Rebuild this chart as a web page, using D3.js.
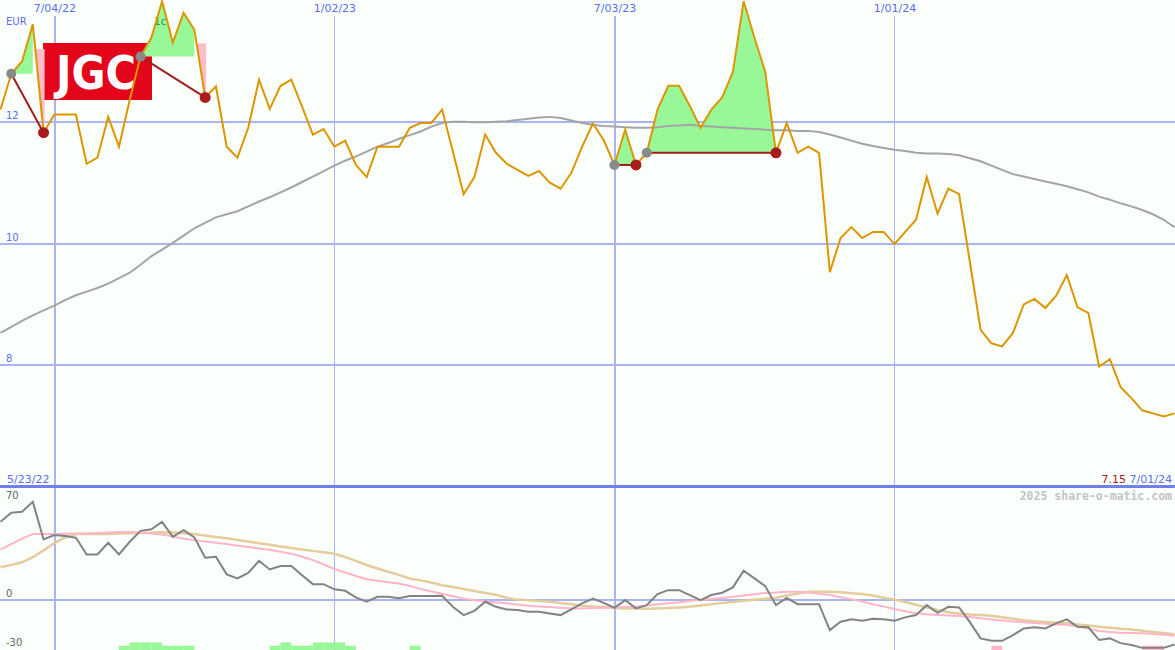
<!DOCTYPE html>
<html><head><meta charset="utf-8">
<script src="https://cdn.jsdelivr.net/npm/d3@7"></script>
<style>html,body{margin:0;padding:0;background:#fbfffb;overflow:hidden}svg{display:block}</style>
</head><body><svg id="c" width="1175" height="650"></svg>
<script>
// ---------- data ----------
const startDate = new Date(2022, 4, 30);
const endDate = new Date(2024, 6, 1);
const price = [12.20,12.79,12.99,13.60,11.82,12.12,12.12,12.12,11.31,11.41,
 12.08,11.59,12.36,13.07,13.38,13.98,13.30,13.79,13.51,12.40,
 12.58,11.59,11.41,11.90,12.69,12.21,12.59,12.69,12.25,11.79,
 11.88,11.59,11.69,11.29,11.09,11.59,11.59,11.59,11.90,11.98,
 11.98,12.20,11.51,10.81,11.09,11.79,11.49,11.31,11.21,11.11,
 11.19,11.00,10.90,11.16,11.59,11.97,11.70,11.29,11.87,11.29,
 11.49,12.20,12.59,12.59,12.26,11.90,12.20,12.40,12.82,13.98,
 13.38,12.82,11.49,11.98,11.49,11.59,11.49,9.53,10.09,10.27,
 10.09,10.19,10.19,9.99,10.19,10.39,11.09,10.49,10.90,10.81,
 9.70,8.58,8.36,8.31,8.53,9.00,9.09,8.94,9.14,9.48,
 8.95,8.86,7.98,8.10,7.64,7.46,7.26,7.21,7.16,7.21];
const movingAvg = [8.53,8.63,8.73,8.82,8.90,8.98,9.07,9.15,9.21,9.27,
 9.34,9.43,9.52,9.65,9.79,9.90,10.01,10.13,10.25,10.34,
 10.43,10.48,10.53,10.61,10.69,10.76,10.84,10.92,11.01,11.10,
 11.19,11.28,11.36,11.43,11.51,11.59,11.65,11.72,11.78,11.84,
 11.92,11.98,12.00,12.00,11.99,11.99,12.00,12.01,12.03,12.05,
 12.07,12.08,12.06,12.02,11.98,11.95,11.93,11.92,11.91,11.90,
 11.90,11.91,11.93,11.94,11.95,11.93,11.92,11.91,11.90,11.89,
 11.88,11.87,11.86,11.86,11.85,11.85,11.83,11.79,11.74,11.69,
 11.64,11.60,11.57,11.54,11.52,11.49,11.48,11.48,11.47,11.45,
 11.40,11.35,11.28,11.21,11.14,11.10,11.06,11.02,10.98,10.94,
 10.89,10.84,10.77,10.72,10.66,10.61,10.55,10.48,10.39,10.27];
const momentum = [48.0,53.6,54.2,60.3,37.2,39.9,39.3,38.3,28.0,28.0,
 35.2,28.0,35.8,42.5,43.4,48.0,38.8,42.9,38.5,26.0,
 26.6,15.8,13.3,16.7,24.1,18.8,20.9,20.9,15.3,9.8,
 9.8,6.6,5.7,1.7,-1.0,2.0,2.0,1.2,2.5,2.5,
 2.5,2.6,-4.1,-9.2,-6.6,-1.0,-4.1,-5.7,-6.1,-7.2,
 -7.2,-8.2,-9.2,-5.7,-2.0,1.0,-1.7,-4.7,0,-5.1,
 -3.1,3.7,6.1,6.1,3.1,0,3.1,4.5,7.8,18.0,
 13.3,8.6,-3.1,1.4,-2.5,-2.5,-2.5,-18.4,-13.3,-11.8,
 -12.7,-11.5,-11.8,-12.7,-10.6,-9.2,-3.1,-7.8,-4.1,-4.5,
 -13.5,-23.5,-25.0,-25.0,-21.5,-17.4,-16.7,-17.4,-14.3,-11.8,
 -16.4,-16.7,-24.5,-23.5,-26.4,-27.6,-29.3,-29.3,-29.3,-27.2];
const momentumAvgFast = [31.1,34.4,37.7,40.5,40.5,40.5,40.7,40.8,40.9,41.2,
 41.5,41.8,41.8,41.4,40.9,40.3,39.0,37.7,36.8,36.0,
 35.2,34.4,33.4,32.6,31.7,30.9,29.7,28.5,26.6,24.5,
 21.9,19.1,16.9,14.8,12.8,11.9,11.0,10.2,8.6,6.9,
 5.3,3.9,2.4,0.9,0,-0.9,-1.5,-2.0,-2.7,-3.4,
 -3.9,-4.3,-4.7,-5.2,-5.2,-4.9,-4.7,-4.5,-4.3,-4.0,
 -3.3,-2.6,-2.0,-1.3,-0.6,0,0.7,1.3,2.0,2.8,
 3.6,4.4,4.7,5.1,5.1,4.6,3.9,3.1,1.8,0.6,
 -0.9,-2.5,-3.9,-5.5,-6.9,-8.0,-8.7,-9.1,-9.4,-9.8,
 -10.4,-11.2,-11.9,-12.5,-13.1,-13.6,-14.1,-14.5,-14.9,-15.2,
 -16.2,-17.5,-18.9,-19.6,-20.0,-20.2,-20.4,-20.8,-21.3,-21.9];
const momentumAvgSlow = [20.1,21.6,23.2,26.3,30.5,35.0,38.4,40.5,40.5,40.5,
 40.6,40.8,41.0,41.2,41.3,41.6,41.4,41.0,40.5,39.6,
 38.7,37.9,36.9,35.9,34.9,34.0,32.9,32.0,31.0,30.2,
 29.3,28.4,26.4,24.1,21.5,19.4,17.4,15.5,13.2,12.1,
 10.8,9.1,8.0,6.8,5.6,4.4,3.3,1.4,0.3,-0.1,
 -0.6,-1.0,-1.8,-2.6,-3.4,-3.9,-4.3,-4.9,-5.2,-5.2,
 -5.3,-5.1,-4.8,-4.6,-4.1,-3.3,-2.5,-1.7,-1.1,-0.4,
 0.2,0.9,1.5,2.8,4.1,5.1,5.1,5.1,4.8,4.2,
 3.7,2.8,1.5,0.3,-1.2,-2.8,-4.5,-6.1,-7.4,-8.2,
 -8.8,-9.2,-9.6,-10.5,-11.5,-12.4,-12.9,-13.4,-13.9,-14.4,
 -15.0,-15.6,-16.4,-17.0,-17.6,-18.0,-18.8,-19.5,-20.2,-20.9];
const signalIdx = [11,12,13,14,15,16,17, 25,26,27,28,29,30,31,32, 38, 92, 106,107];
const signalVal = [2,4,4,4,2,2,2, 2,4,2,2,4,4,4,2, 2, -2, -2,-2];
const patternStart = [1,13,57,60];
const patternEnd = [4,19,59,72];
const dateTicks = [new Date(2022,6,4), new Date(2023,0,2), new Date(2023,6,3), new Date(2024,0,1)];
const priceTicks = [8,10,12];
const lowerTicks = [70,0,-30];
const lowerGrid = [0];
const currency = "EUR";
const rangeStartLabel = "5/23/22";
const rangeEndLabel = "7/01/24";
const lastClose = "7.15";
const watermark = "2025 share-o-matic.com";
const ticker = "JGC";
const patternNote = "1c";

// ---------- layout ----------
const W = 1175, H = 650, SEP = 487;
const svg = d3.select("#c");
const dates = d3.timeMonday.range(startDate, d3.timeDay.offset(endDate, 1));
const x = d3.scaleTime().domain([startDate, endDate]).range([0.5, 1174.5]);
const yMain = d3.scaleLinear().domain([6, 14]).range([SEP, 0]);
const yLow = d3.scaleLinear().domain([-30, 70]).range([649, 486]);
const BLUE = "#5a6ef0", GRID = "#a9b5f2";
const FONT = "'DejaVu Sans', sans-serif";

svg.append("rect").attr("width", W).attr("height", H).attr("fill", "#fbfffb");

const defs = svg.append("defs");
defs.append("clipPath").attr("id", "cm").append("rect").attr("x", 0).attr("y", 0).attr("width", W).attr("height", SEP);
defs.append("clipPath").attr("id", "cl").append("rect").attr("x", 0).attr("y", SEP + 1).attr("width", W).attr("height", H - SEP - 1);

// horizontal grid
svg.append("g").selectAll("line").data(priceTicks).join("line")
  .attr("x1", 0).attr("x2", W)
  .attr("y1", d => Math.round(yMain(d))).attr("y2", d => Math.round(yMain(d)))
  .attr("stroke", GRID).attr("stroke-width", 2);
svg.append("g").selectAll("line").data(lowerGrid).join("line")
  .attr("x1", 0).attr("x2", W)
  .attr("y1", d => Math.round(yLow(d))).attr("y2", d => Math.round(yLow(d)))
  .attr("stroke", GRID).attr("stroke-width", 2);
// vertical grid
svg.append("g").selectAll("line").data(dateTicks).join("line")
  .attr("x1", (d, i) => i % 2 === 0 ? Math.round(x(d)) + 1 : Math.round(x(d)) + 0.5)
  .attr("x2", (d, i) => i % 2 === 0 ? Math.round(x(d)) + 1 : Math.round(x(d)) + 0.5)
  .attr("y1", 16).attr("y2", H)
  .attr("stroke", GRID).attr("stroke-width", (d, i) => i % 2 === 0 ? 2 : 1);
// separator
svg.append("line").attr("x1", 0).attr("x2", W).attr("y1", SEP - 0.5).attr("y2", SEP - 0.5)
  .attr("stroke", "#6f80ea").attr("stroke-width", 3);

// top date axis
const ax = svg.append("g").attr("transform", "translate(0,12)")
  .call(d3.axisTop(x).tickValues(dateTicks).tickFormat(d3.timeFormat("%-m/%d/%y")).tickSize(0).tickPadding(0));
ax.select(".domain").remove();
ax.selectAll("text").attr("fill", BLUE).style("font-family", FONT).style("font-size", "11px").attr("dy", 0);

// logo
svg.append("rect").attr("x", 43).attr("y", 43).attr("width", 109).attr("height", 57).attr("fill", "#e3061b");
svg.append("text").attr("x", 96).attr("y", 89).attr("text-anchor", "middle")
  .attr("fill", "#fff").style("font-family", "'Liberation Sans Narrow','DejaVu Sans Condensed','Liberation Sans',sans-serif")
  .style("font-weight", "bold").style("font-size", "47px")
  .attr("textLength", 80).attr("lengthAdjust", "spacingAndGlyphs").text(ticker);

// ---------- main panel ----------
const gm = svg.append("g").attr("clip-path", "url(#cm)");
const patterns = patternStart.map((s, j) => {
  const e = patternEnd[j], base = price[s];
  let k = s;
  while (k + 1 <= e && price[k + 1] >= base) k++;
  return {s, e, k, base};
});
patterns.forEach(p => {
  const idx = d3.range(p.s, p.k + 1);
  gm.append("path").datum(idx)
    .attr("d", d3.area().x(i => x(dates[i])).y0(yMain(p.base)).y1(i => yMain(price[i])))
    .attr("fill", "#98f898");
  if (p.k < p.e) {
    const m = (price[p.k] + p.base) / 2;
    const t = (price[p.k] - m) / (price[p.k] - price[p.e]);
    const xk = x(dates[p.k]), xe = x(dates[p.e]);
    const pts = [[xk + t * (xe - xk), yMain(m)], [xe + 1, yMain(m)], [xe + 1, yMain(price[p.e])], [xe, yMain(price[p.e])]];
    gm.append("path").attr("d", d3.line()(pts) + "Z").attr("fill", "#ffbccb");
  }
});
gm.append("text").attr("x", x(dates[14]) + 3).attr("y", 25)
  .attr("fill", "#2c9a2c").style("font-family", FONT).style("font-size", "10px").text(patternNote);

const lineMain = d3.line().x((d, i) => x(dates[i])).y(d => yMain(d));
gm.append("path").datum(movingAvg).attr("d", lineMain).attr("fill", "none")
  .attr("stroke", "#a4a4a4").attr("stroke-width", 2);
gm.append("path").datum(price).attr("d", lineMain).attr("fill", "none")
  .attr("stroke", "#dc9600").attr("stroke-width", 2).attr("stroke-linejoin", "miter");
patterns.forEach(p => {
  gm.append("line")
    .attr("x1", x(dates[p.s])).attr("y1", yMain(price[p.s]))
    .attr("x2", x(dates[p.e])).attr("y2", yMain(price[p.e]))
    .attr("stroke", "#a01e1e").attr("stroke-width", 2);
  gm.append("circle").attr("cx", x(dates[p.s])).attr("cy", yMain(price[p.s])).attr("r", 5).attr("fill", "#8a8a8a");
  gm.append("circle").attr("cx", x(dates[p.e])).attr("cy", yMain(price[p.e])).attr("r", 5.5).attr("fill", "#a81c1c");
});

// main labels
svg.append("text").attr("x", 6).attr("y", 25).attr("fill", BLUE)
  .style("font-family", FONT).style("font-size", "10px").text(currency);
svg.append("g").selectAll("text").data(priceTicks).join("text")
  .attr("x", 6).attr("y", d => yMain(d) - 3).attr("fill", BLUE)
  .style("font-family", FONT).style("font-size", "10px").text(d => d);
svg.append("text").attr("x", 7).attr("y", 483).attr("fill", BLUE)
  .style("font-family", FONT).style("font-size", "11px").text(rangeStartLabel);
const endLbl = svg.append("text").attr("x", 1172).attr("y", 483).attr("text-anchor", "end")
  .style("font-family", FONT).style("font-size", "11px");
endLbl.append("tspan").attr("fill", "#a01e1e").text(lastClose + " ");
endLbl.append("tspan").attr("fill", BLUE).text(rangeEndLabel);
svg.append("text").attr("x", 1172).attr("y", 500).attr("text-anchor", "end").attr("fill", "#c4c4c4")
  .style("font-family", "'DejaVu Sans Mono', monospace").style("font-weight", "bold").style("font-size", "11.5px")
  .text(watermark);

// ---------- lower panel ----------
const gl = svg.append("g").attr("clip-path", "url(#cl)");
gl.selectAll("rect.sig").data(signalIdx).join("rect").attr("class", "sig")
  .attr("x", d => x(dates[d]))
  .attr("width", d => x(dates[Math.min(d + 1, dates.length - 1)]) - x(dates[d]))
  .attr("y", (d, i) => yLow(-30 + Math.abs(signalVal[i])))
  .attr("height", (d, i) => yLow(-30) - yLow(-30 + Math.abs(signalVal[i])) + 2)
  .attr("fill", (d, i) => signalVal[i] > 0 ? "#98f898" : "#ffb6c8");
const lineLow = d3.line().x((d, i) => x(dates[i])).y(d => yLow(d));
gl.append("path").datum(momentumAvgSlow).attr("d", lineLow).attr("fill", "none")
  .attr("stroke", "#e4cc9c").attr("stroke-width", 2.5);
gl.append("path").datum(momentumAvgFast).attr("d", lineLow).attr("fill", "none")
  .attr("stroke", "#ffb4c8").attr("stroke-width", 2);
gl.append("path").datum(momentum).attr("d", lineLow).attr("fill", "none")
  .attr("stroke", "#838383").attr("stroke-width", 2);
svg.append("g").selectAll("text").data(lowerTicks).join("text")
  .attr("x", 6).attr("y", d => Math.max(SEP + 12, Math.min(H - 4, yLow(d) - 3)))
  .attr("fill", "#666").style("font-family", FONT).style("font-size", "10px").text(d => d);
</script></body></html>
